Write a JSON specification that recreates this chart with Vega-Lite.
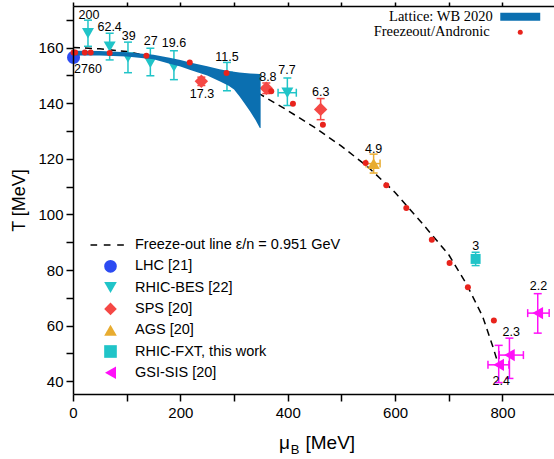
{
  "$schema": "https://vega.github.io/schema/vega-lite/v6.json",
  "width": 481,
  "height": 388,
  "autosize": {"type": "none"},
  "padding": {"left": 73, "top": 6, "right": 0, "bottom": 65},
  "config": {
    "view": {"stroke": null},
    "font": "Liberation Sans",
    "axis": {
      "grid": false,
      "domainColor": "black",
      "domainWidth": 1.5,
      "tickColor": "black",
      "tickWidth": 1.5,
      "labelColor": "black",
      "labelFont": "Liberation Sans",
      "labelFontSize": 15,
      "titleFont": "Liberation Sans",
      "titleFontSize": 18,
      "titleFontWeight": "normal",
      "titleColor": "black",
      "labelOverlap": false,
      "labelFlush": false
    }
  },
  "datasets": {
    "line": [
      {"mu": 0, "T": 160.1}, {"mu": 50, "T": 159.6}, {"mu": 100, "T": 158.6},
      {"mu": 150, "T": 156.7}, {"mu": 200, "T": 154.4}, {"mu": 250, "T": 151.4},
      {"mu": 300, "T": 147.8}, {"mu": 350, "T": 143.1}, {"mu": 400, "T": 137.4},
      {"mu": 450, "T": 131.3}, {"mu": 500, "T": 124.6}, {"mu": 550, "T": 117.0},
      {"mu": 600, "T": 107.9}, {"mu": 650, "T": 96.9}, {"mu": 700, "T": 85.5},
      {"mu": 732, "T": 75.3}, {"mu": 763, "T": 63.3}, {"mu": 782, "T": 52.5},
      {"mu": 790, "T": 47.5}
    ],
    "band": [
      {"src": "Lattice: WB 2020", "mu": 0, "lo": 157.2, "hi": 158.9},
      {"src": "Lattice: WB 2020", "mu": 50, "lo": 157.2, "hi": 158.8},
      {"src": "Lattice: WB 2020", "mu": 100, "lo": 156.8, "hi": 158.4},
      {"src": "Lattice: WB 2020", "mu": 150, "lo": 155.8, "hi": 157.5},
      {"src": "Lattice: WB 2020", "mu": 180, "lo": 154.2, "hi": 156.4},
      {"src": "Lattice: WB 2020", "mu": 200, "lo": 153.2, "hi": 155.6},
      {"src": "Lattice: WB 2020", "mu": 220, "lo": 151.9, "hi": 154.6},
      {"src": "Lattice: WB 2020", "mu": 250, "lo": 150.0, "hi": 153.3},
      {"src": "Lattice: WB 2020", "mu": 273, "lo": 147.9, "hi": 152.2},
      {"src": "Lattice: WB 2020", "mu": 290, "lo": 146.3, "hi": 151.6},
      {"src": "Lattice: WB 2020", "mu": 300, "lo": 145.0, "hi": 151.3},
      {"src": "Lattice: WB 2020", "mu": 310, "lo": 142.5, "hi": 151.1},
      {"src": "Lattice: WB 2020", "mu": 320, "lo": 139.8, "hi": 150.9},
      {"src": "Lattice: WB 2020", "mu": 330, "lo": 137.0, "hi": 150.7},
      {"src": "Lattice: WB 2020", "mu": 340, "lo": 134.0, "hi": 150.6},
      {"src": "Lattice: WB 2020", "mu": 348, "lo": 131.1, "hi": 150.5},
      {"src": "Lattice: WB 2020", "mu": 349.5, "lo": 131.1, "hi": 150.5}
    ],
    "andronic": [
      {"src": "Freezeout/Andronic", "mu": 1, "T": 158.3},
      {"src": "Freezeout/Andronic", "mu": 4, "T": 158.3},
      {"src": "Freezeout/Andronic", "mu": 22, "T": 158.3},
      {"src": "Freezeout/Andronic", "mu": 33, "T": 158.3},
      {"src": "Freezeout/Andronic", "mu": 68.3, "T": 158.1},
      {"src": "Freezeout/Andronic", "mu": 136.7, "T": 157.1},
      {"src": "Freezeout/Andronic", "mu": 217.5, "T": 154.7},
      {"src": "Freezeout/Andronic", "mu": 286, "T": 150.9},
      {"src": "Freezeout/Andronic", "mu": 369.3, "T": 144.3},
      {"src": "Freezeout/Andronic", "mu": 409.7, "T": 139.8},
      {"src": "Freezeout/Andronic", "mu": 465.5, "T": 132.3},
      {"src": "Freezeout/Andronic", "mu": 545.1, "T": 118.5},
      {"src": "Freezeout/Andronic", "mu": 583.6, "T": 110.5},
      {"src": "Freezeout/Andronic", "mu": 620.9, "T": 102.3},
      {"src": "Freezeout/Andronic", "mu": 668.4, "T": 90.9},
      {"src": "Freezeout/Andronic", "mu": 701.5, "T": 82.5},
      {"src": "Freezeout/Andronic", "mu": 735.6, "T": 73.8},
      {"src": "Freezeout/Andronic", "mu": 784, "T": 61.8}
    ],
    "exps": [
      {"exp": "LHC [21]", "mu": 1, "T": 156.5, "Tlo": 155.0, "Thi": 158.0},
      {"exp": "RHIC-BES [22]", "mu": 27.9, "T": 165.2, "Tlo": 160.5, "Thi": 169.9},
      {"exp": "RHIC-BES [22]", "mu": 68.3, "T": 160.4, "Tlo": 155.6, "Thi": 165.2},
      {"exp": "RHIC-BES [22]", "mu": 102.4, "T": 156.5, "Tlo": 151.0, "Thi": 162.0},
      {"exp": "RHIC-BES [22]", "mu": 144.1, "T": 154.6, "Tlo": 149.9, "Thi": 159.8},
      {"exp": "RHIC-BES [22]", "mu": 188, "T": 153.2, "Tlo": 148.5, "Thi": 158.9},
      {"exp": "RHIC-BES [22]", "mu": 286.8, "T": 149.6, "Tlo": 144.5, "Thi": 154.7},
      {"exp": "RHIC-BES [22]", "mu": 399.3, "T": 143.8, "Tlo": 139.2, "Thi": 149.1, "mlo": 382, "mhi": 416},
      {"exp": "SPS [20]", "mu": 239.1, "T": 147.9, "Tlo": 146.4, "Thi": 149.4},
      {"exp": "SPS [20]", "mu": 360.1, "T": 145.4, "Tlo": 143.5, "Thi": 147.3},
      {"exp": "SPS [20]", "mu": 461.3, "T": 137.8, "Tlo": 134.1, "Thi": 141.7},
      {"exp": "AGS [20]", "mu": 560, "T": 118.3, "Tlo": 114.9, "Thi": 121.7, "mlo": 546, "mhi": 572},
      {"exp": "RHIC-FXT, this work", "mu": 750, "T": 84.0, "Tlo": 81.6, "Thi": 86.4},
      {"exp": "GSI-SIS [20]", "mu": 865.7, "T": 64.5, "Tlo": 57.3, "Thi": 71.5, "mlo": 847, "mhi": 887},
      {"exp": "GSI-SIS [20]", "mu": 813, "T": 49.4, "Tlo": 41.0, "Thi": 55.5, "mlo": 794, "mhi": 839},
      {"exp": "GSI-SIS [20]", "mu": 793, "T": 45.9, "Tlo": 39.5, "Thi": 52.9, "mlo": 773, "mhi": 812}
    ],
    "labels": [
      {"label": "2760", "mu": 27.9, "T": 152.2},
      {"label": "200", "mu": 29.8, "T": 171.8},
      {"label": "62.4", "mu": 68.3, "T": 167.6},
      {"label": "39", "mu": 103.7, "T": 164.2},
      {"label": "27", "mu": 144.7, "T": 162.4},
      {"label": "19.6", "mu": 188, "T": 161.6},
      {"label": "11.5", "mu": 286.8, "T": 156.8},
      {"label": "17.3", "mu": 240.2, "T": 143.2},
      {"label": "8.8", "mu": 363, "T": 149.6},
      {"label": "7.7", "mu": 398.5, "T": 152.0},
      {"label": "6.3", "mu": 461.3, "T": 144.2},
      {"label": "4.9", "mu": 560, "T": 123.5},
      {"label": "3", "mu": 750, "T": 88.8},
      {"label": "2.2", "mu": 867.2, "T": 74.3},
      {"label": "2.3", "mu": 816.4, "T": 57.8},
      {"label": "2.4", "mu": 797.8, "T": 40.2}
    ]
  },
  "resolve": {"axis": {"x": "independent", "y": "independent"}},
  "layer": [
    {
      "layer": [
        {
          "data": {"name": "line"},
          "mark": {"type": "line", "color": "black", "strokeDash": [7, 5], "strokeWidth": 1.5},
          "encoding": {
            "x": {
              "field": "mu", "type": "quantitative",
              "scale": {"domain": [0, 896], "nice": false, "zero": false},
              "axis": {
                "orient": "top", "title": "B", "labels": false, "domain": true,
                "values": [0, 100, 200, 300, 400, 500, 600, 700, 800],
                "tickSize": 4,
                "titleFontSize": 13, "titleX": 221.5, "titleY": 447,
                "titleAlign": "center", "titleBaseline": "alphabetic", "titleAngle": 0,
                "encode": {"ticks": {"update": {"y2": {"value": 4}}}}
              }
            },
            "y": {
              "field": "T", "type": "quantitative",
              "scale": {"domain": [35.4, 175], "nice": false, "zero": false},
              "axis": {
                "orient": "right", "title": "[MeV]", "labels": false, "domain": false,
                "values": [40, 60, 80, 100, 120, 140, 160],
                "tickSize": 4,
                "titleFontSize": 19, "titleX": -249, "titleY": 442,
                "titleAlign": "left", "titleBaseline": "alphabetic", "titleAngle": 0,
                "encode": {"ticks": {"update": {"x2": {"value": -4}}}}
              }
            }
          }
        }
      ]
    },
    {
      "encoding": {
        "x": {
          "type": "quantitative",
          "scale": {"domain": [0, 896], "nice": false, "zero": false},
          "axis": {
            "orient": "bottom", "title": "μ",
            "values": [0, 100, 200, 300, 400, 500, 600, 700, 800],
            "labelExpr": "datum.value % 200 === 0 ? datum.label : ''",
            "tickSize": 7, "labelPadding": 4, "zindex": 1,
            "titleFontSize": 19, "titleX": 211, "titleY": 54,
            "titleAlign": "center", "titleBaseline": "alphabetic",
            "encode": {"ticks": {"update": {"y2": {"signal": "datum.value % 200 === 0 ? 7 : 4"}}}}
          }
        },
        "y": {
          "type": "quantitative",
          "scale": {"domain": [35.4, 175], "nice": false, "zero": false},
          "axis": {
            "orient": "left", "title": "T [MeV]",
            "values": [40, 50, 60, 70, 80, 90, 100, 110, 120, 130, 140, 150, 160, 170],
            "labelExpr": "datum.value % 20 === 0 ? datum.label : ''",
            "tickSize": 7, "labelPadding": 3, "titlePadding": 9, "zindex": 1,
            "encode": {"ticks": {"update": {"x2": {"signal": "datum.value % 20 === 0 ? -7 : -4"}}}}
          }
        }
      },
      "layer": [
        {
          "data": {"name": "exps"},
          "mark": {"type": "rule", "strokeWidth": 1.5},
          "encoding": {
            "x": {"field": "mu"},
            "y": {"field": "Tlo"},
            "y2": {"field": "Thi"},
            "stroke": {
              "field": "exp", "type": "nominal", "legend": null,
              "scale": {
                "domain": ["LHC [21]", "RHIC-BES [22]", "SPS [20]", "AGS [20]", "RHIC-FXT, this work", "GSI-SIS [20]"],
                "range": ["#2c4bf2", "#20c4c8", "#f54845", "#e8ac30", "#20c4c8", "#ff10f8"]
              }
            }
          }
        },
        {
          "data": {"name": "exps"},
          "mark": {"type": "point", "shape": "M-1,0H1", "size": 64, "filled": false, "strokeWidth": 1.5, "opacity": 1},
          "encoding": {
            "x": {"field": "mu"},
            "y": {"field": "Thi"},
            "stroke": {"field": "exp", "type": "nominal", "legend": null}
          }
        },
        {
          "data": {"name": "exps"},
          "mark": {"type": "point", "shape": "M-1,0H1", "size": 64, "filled": false, "strokeWidth": 1.5, "opacity": 1},
          "encoding": {
            "x": {"field": "mu"},
            "y": {"field": "Tlo"},
            "stroke": {"field": "exp", "type": "nominal", "legend": null}
          }
        },
        {
          "data": {"name": "exps"},
          "transform": [{"filter": "isValid(datum.mlo)"}],
          "mark": {"type": "rule", "strokeWidth": 1.5},
          "encoding": {
            "x": {"field": "mlo"},
            "x2": {"field": "mhi"},
            "y": {"field": "T"},
            "stroke": {"field": "exp", "type": "nominal", "legend": null}
          }
        },
        {
          "data": {"name": "exps"},
          "transform": [{"filter": "isValid(datum.mlo)"}],
          "mark": {"type": "point", "shape": "M0,-1V1", "size": 64, "filled": false, "strokeWidth": 1.5, "opacity": 1},
          "encoding": {
            "x": {"field": "mlo"},
            "y": {"field": "T"},
            "stroke": {"field": "exp", "type": "nominal", "legend": null}
          }
        },
        {
          "data": {"name": "exps"},
          "transform": [{"filter": "isValid(datum.mlo)"}],
          "mark": {"type": "point", "shape": "M0,-1V1", "size": 64, "filled": false, "strokeWidth": 1.5, "opacity": 1},
          "encoding": {
            "x": {"field": "mhi"},
            "y": {"field": "T"},
            "stroke": {"field": "exp", "type": "nominal", "legend": null}
          }
        },
        {
          "data": {"name": "exps"},
          "mark": {"type": "point", "filled": true, "opacity": 1, "strokeWidth": 0},
          "encoding": {
            "x": {"field": "mu"},
            "y": {"field": "T"},
            "color": {
              "field": "exp", "type": "nominal",
              "scale": {
                "domain": ["Freeze-out line ε/n = 0.951 GeV", "LHC [21]", "RHIC-BES [22]", "SPS [20]", "AGS [20]", "RHIC-FXT, this work", "GSI-SIS [20]"],
                "range": ["black", "#2c4bf2", "#20c4c8", "#f54845", "#e8ac30", "#20c4c8", "#ff10f8"]
              },
              "legend": {
                "orient": "none", "legendX": 30.25, "legendY": 231.75, "title": null, "padding": 0,
                "labelFont": "Liberation Sans", "labelFontSize": 14.5, "labelColor": "black", "labelLimit": 0,
                "labelOffset": 17.25, "symbolSize": 160, "rowPadding": 6.3, "symbolStrokeWidth": 0
              }
            },
            "shape": {
              "field": "exp", "type": "nominal",
              "scale": {
                "domain": ["Freeze-out line ε/n = 0.951 GeV", "LHC [21]", "RHIC-BES [22]", "SPS [20]", "AGS [20]", "RHIC-FXT, this work", "GSI-SIS [20]"],
                "range": ["M-3.16,-0.12H-2.11V0.12H-3.16Z M-1.06,-0.12H0V0.12H-1.06Z M1.06,-0.12H2.11V0.12H1.06Z", "circle", "triangle-down", "diamond", "triangle-up", "square", "triangle-left"]
              },
              "legend": {"title": null}
            },
            "size": {
              "field": "exp", "type": "ordinal", "legend": null,
              "scale": {
                "type": "ordinal",
                "domain": ["LHC [21]", "RHIC-BES [22]", "SPS [20]", "AGS [20]", "RHIC-FXT, this work", "GSI-SIS [20]"],
                "range": [169, 144, 180, 150, 100, 150]
              }
            }
          }
        },
        {
          "data": {"name": "band"},
          "mark": {"type": "area", "opacity": 1},
          "encoding": {
            "x": {"field": "mu"},
            "y": {"field": "lo"},
            "y2": {"field": "hi"},
            "fill": {
              "field": "src", "type": "nominal",
              "scale": {"domain": ["Lattice: WB 2020"], "range": ["#0b6fb0"]},
              "legend": {
                "orient": "none", "legendX": 440, "legendY": 3.5, "title": null, "padding": 0,
                "labelFont": "Liberation Serif", "labelFontSize": 14.5, "labelColor": "black", "labelLimit": 0,
                "labelAlign": "right", "labelOffset": -34.8, "symbolSize": 144,
                "symbolType": "M-3.33,-0.67H3.33V0.67H-3.33Z"
              }
            }
          }
        },
        {
          "data": {"name": "andronic"},
          "mark": {"type": "point", "filled": true, "size": 36, "strokeWidth": 0, "color": "#e8231c"},
          "encoding": {
            "x": {"field": "mu"},
            "y": {"field": "T"},
            "opacity": {
              "field": "src", "type": "ordinal",
              "scale": {"type": "ordinal", "domain": ["Freezeout/Andronic"], "range": [1]},
              "legend": {
                "orient": "none", "legendX": 440, "legendY": 19.1, "title": null, "padding": 0,
                "labelFont": "Liberation Serif", "labelFontSize": 14.5, "labelColor": "black", "labelLimit": 0,
                "labelAlign": "right", "labelOffset": -37.8, "symbolSize": 25,
                "symbolType": "circle", "symbolFillColor": "#e8231c", "symbolOpacity": 1
              }
            }
          }
        },
        {
          "data": {"name": "labels"},
          "mark": {"type": "text", "font": "Liberation Sans", "fontSize": 12.5, "color": "black", "align": "center", "baseline": "middle"},
          "encoding": {
            "x": {"field": "mu"},
            "y": {"field": "T"},
            "text": {"field": "label"}
          }
        }
      ]
    }
  ]
}
